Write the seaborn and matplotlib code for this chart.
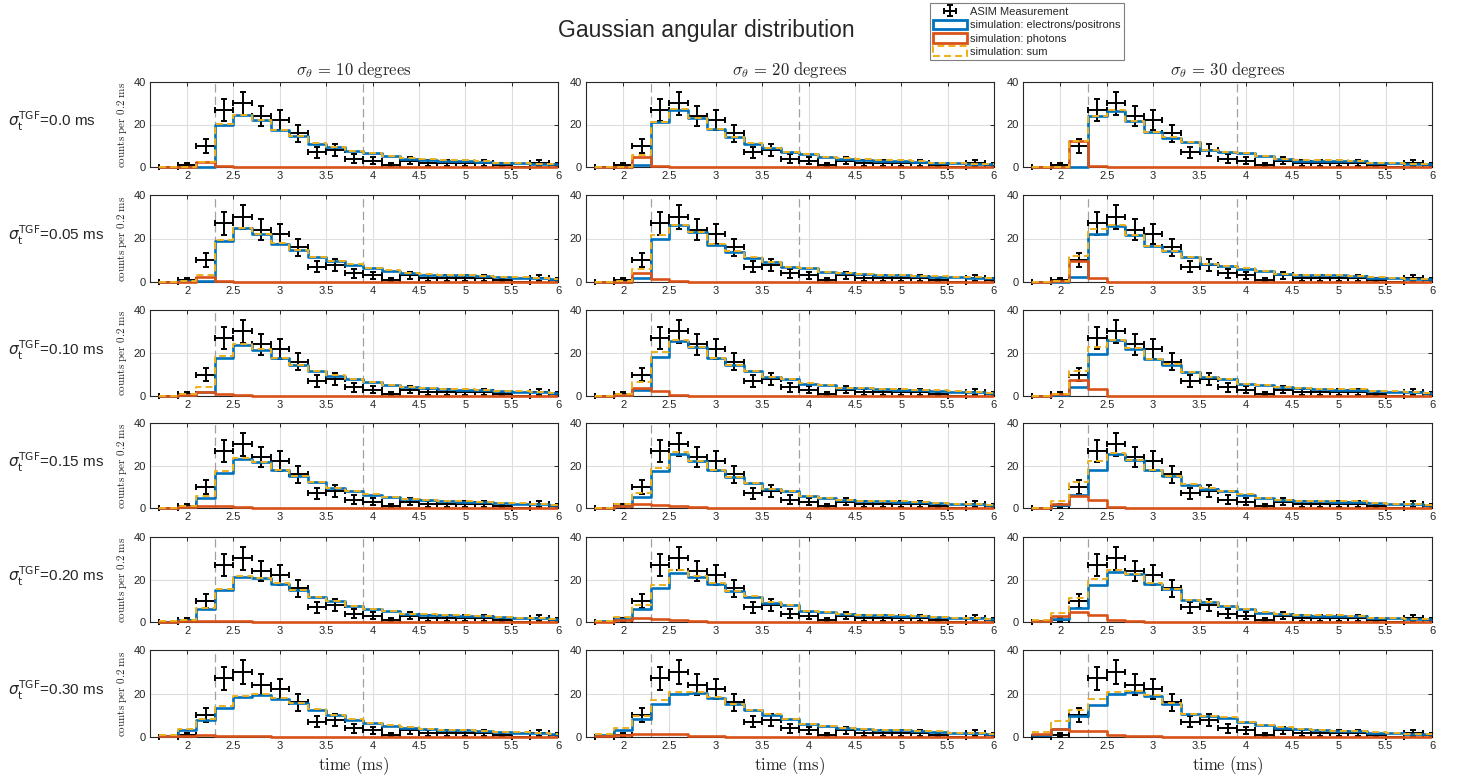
import numpy as np
import pandas as pd
import matplotlib
matplotlib.use("Agg")
import matplotlib.pyplot as plt
from matplotlib.patches import Patch, Rectangle
from matplotlib.ticker import FormatStrFormatter
import seaborn as sns

# ---------------- data ----------------
time_bins = [1.8, 2.0, 2.2, 2.4, 2.6, 2.8, 3.0, 3.2, 3.4, 3.6, 3.8,
             4.0, 4.2, 4.4, 4.6, 4.8, 5.0, 5.2, 5.4, 5.6, 5.8, 6.0]
bin_width = 0.2

asim_counts = [0, 1, 10, 27, 30, 24, 22, 16, 7, 8, 4, 3, 1, 3, 2, 2, 2, 2, 1, 0, 2, 1]
asim_err = [0, 1, 3.2, 5.2, 5.5, 4.9, 4.7, 4, 2.6, 2.8, 2, 1.7, 1, 1.7, 1.4, 1.4, 1.4, 1.4, 1, 0, 1.4, 1]

sigma_t_labels = ["0.0", "0.05", "0.10", "0.15", "0.20", "0.30"]
sigma_theta_labels = ["10", "20", "30"]

electrons_theta10 = [
    [0, 0, 0, 20, 24.5, 22, 17.5, 14.5, 11, 9.5, 7.5, 6.5, 5, 4, 3.5, 3, 3, 2.5, 2, 1.8, 1.5, 1.2],
    [0, 0.3, 0.5, 18.8, 24.6, 22, 17.7, 14.5, 11.5, 9.5, 8, 6.5, 5.2, 4, 3.4, 3, 3, 2.8, 2.2, 2, 1.8, 1.5],
    [0, 0.4, 2, 17.5, 23.7, 21.5, 17.5, 14.5, 11.7, 9.5, 8, 6.5, 5.2, 4.2, 3.8, 3.3, 3, 2.6, 2.2, 2, 1.7, 1.5],
    [0, 0.3, 4.7, 16.5, 23, 21.6, 18, 15, 12.1, 9.4, 7.9, 6.3, 5.2, 4.1, 3.8, 3.3, 3, 2.7, 2.4, 2.1, 1.8, 1.5],
    [0.2, 0.8, 6, 15, 21.1, 20.5, 18.1, 15, 11.8, 9.8, 7.6, 6, 5, 3.9, 3.5, 3.2, 3, 2.7, 2.4, 2, 1.7, 1.5],
    [0.5, 3.4, 7.7, 13.5, 18.5, 19.4, 17.7, 15.7, 12.6, 10, 8, 6.5, 5.2, 4.3, 3.8, 3.3, 3, 2.6, 2.2, 2, 1.8, 1.5],
]
photons_theta10 = [
    [0, 0, 2.3, 0.3, 0.2, 0.2, 0.1, 0.1, 0.1, 0.1, 0.1, 0.1, 0.1, 0.1, 0.1, 0.1, 0.1, 0.1, 0.1, 0.1, 0.1, 0.1],
    [0, 0.2, 2.5, 0.5, 0.2, 0.2, 0.1, 0.1, 0.1, 0.1, 0.1, 0.1, 0.1, 0.1, 0.1, 0.1, 0.1, 0.1, 0.1, 0.1, 0.1, 0.1],
    [0, 0.3, 2, 0.9, 0.3, 0.2, 0.1, 0.1, 0.1, 0.1, 0.1, 0.1, 0.1, 0.1, 0.1, 0.1, 0.1, 0.1, 0.1, 0.1, 0.1, 0.1],
    [0, 0.5, 1.1, 0.8, 0.4, 0.2, 0.1, 0.1, 0.1, 0.1, 0.1, 0.1, 0.1, 0.1, 0.1, 0.1, 0.1, 0.1, 0.1, 0.1, 0.1, 0.1],
    [0.1, 0.3, 0.6, 0.5, 0.4, 0.2, 0.1, 0.1, 0.1, 0.1, 0.1, 0.1, 0.1, 0.1, 0.1, 0.1, 0.1, 0.1, 0.1, 0.1, 0.1, 0.1],
    [0.3, 0.5, 0.8, 0.6, 0.5, 0.3, 0.2, 0.1, 0.1, 0.1, 0.1, 0.1, 0.1, 0.1, 0.1, 0.1, 0.1, 0.1, 0.1, 0.1, 0.1, 0.1],
]
electrons_theta20 = [
    [0, 0, 0.8, 21, 27, 23, 18, 14, 11, 9, 7, 6, 4.5, 4, 3.5, 3, 3, 2.5, 2, 2, 1.5, 1.5],
    [0, 0.2, 2, 20, 26, 23, 17.2, 14, 11.2, 9, 7, 6.5, 4.6, 4.2, 3.5, 3.2, 3, 2.8, 2.5, 2.2, 2, 1.8],
    [0, 0.5, 3, 18, 25.7, 22.6, 17.5, 14.5, 11.4, 8.8, 7.7, 5.8, 4.9, 3.8, 3.5, 3.2, 3, 2.8, 2.5, 2, 1.8, 1.5],
    [0, 0.8, 5.2, 17.6, 25.5, 22, 17.8, 14.5, 11.8, 9, 7.9, 5.5, 4.7, 3.9, 3.4, 3.1, 3, 2.8, 2.3, 2, 1.7, 1.5],
    [0.3, 1.4, 6.3, 16, 23.2, 21.2, 18.1, 14.7, 12, 9.1, 8, 5.3, 4.7, 3.9, 3.4, 3.2, 3, 2.8, 2.4, 2, 1.7, 1.5],
    [0.9, 3.1, 8.3, 15.3, 19.7, 20.3, 18.1, 15, 12.2, 10.3, 8.3, 5.9, 5, 4, 3.6, 3.3, 3, 2.8, 2.5, 1.8, 1.7, 1.5],
]
photons_theta20 = [
    [0, 0, 4.7, 0.3, 0.1, 0.1, 0.1, 0.1, 0.1, 0.1, 0.1, 0.1, 0.1, 0.1, 0.1, 0.1, 0.1, 0.1, 0.1, 0.1, 0.1, 0.1],
    [0, 0.2, 4, 1.5, 0.3, 0.2, 0.1, 0.1, 0.1, 0.1, 0.1, 0.1, 0.1, 0.1, 0.1, 0.1, 0.1, 0.1, 0.1, 0.1, 0.1, 0.1],
    [0, 0.5, 3.5, 2.3, 0.4, 0.2, 0.1, 0.1, 0.1, 0.1, 0.1, 0.1, 0.1, 0.1, 0.1, 0.1, 0.1, 0.1, 0.1, 0.1, 0.1, 0.1],
    [0, 0.9, 1.9, 1.4, 1, 0.3, 0.2, 0.1, 0.1, 0.1, 0.1, 0.1, 0.1, 0.1, 0.1, 0.1, 0.1, 0.1, 0.1, 0.1, 0.1, 0.1],
    [0.1, 1, 1.8, 1.6, 1.1, 0.6, 0.2, 0.1, 0.1, 0.1, 0.1, 0.1, 0.1, 0.1, 0.1, 0.1, 0.1, 0.1, 0.1, 0.1, 0.1, 0.1],
    [0.5, 0.9, 1.2, 1.5, 1.2, 0.5, 0.3, 0.2, 0.1, 0.1, 0.1, 0.1, 0.1, 0.1, 0.1, 0.1, 0.1, 0.1, 0.1, 0.1, 0.1, 0.1],
]
electrons_theta30 = [
    [0, 0, 0, 23.9, 26.5, 21.7, 16.4, 13.8, 11.8, 8, 7, 6.4, 5, 3.7, 3, 3, 3, 2.8, 2, 1.8, 1.5, 1.3],
    [0, 0.2, 2.2, 22.2, 25.8, 21.5, 16.5, 14.2, 11.4, 8.2, 7.2, 6.2, 4.9, 3.7, 3.2, 3, 3, 2.8, 2, 1.8, 1.5, 1.3],
    [0, 0.3, 4.2, 19.5, 26, 22, 17, 14.6, 11, 8.8, 7.7, 5.7, 4.9, 4.2, 3.5, 3.3, 3, 3, 2.2, 2, 1.7, 1.5],
    [0, 1.3, 6.3, 18.1, 25.3, 22.4, 17.8, 15, 11, 9.1, 7.9, 6.3, 4.7, 3.9, 3.3, 3.2, 3, 3, 2.2, 2, 1.8, 1.5],
    [0.3, 1.6, 6.6, 17.3, 23.6, 22.4, 18.1, 15.4, 10.2, 9.4, 7.6, 6, 4.4, 3.6, 3.2, 3, 3, 2.8, 2, 1.8, 1.5, 1.3],
    [1, 3.8, 9.5, 14.6, 20, 20.5, 18.8, 15.4, 10.5, 9.7, 8.9, 6.9, 5.4, 4.3, 3.5, 3, 2.8, 2.6, 2, 1.8, 1.3, 1.2],
]
photons_theta30 = [
    [0, 0, 12.4, 0.3, 0.2, 0.1, 0.1, 0.1, 0.1, 0.1, 0.1, 0.1, 0.1, 0.1, 0.1, 0.1, 0.1, 0.1, 0.1, 0.1, 0.1, 0.1],
    [0, 0.3, 9.8, 2, 0.2, 0.1, 0.1, 0.1, 0.1, 0.1, 0.1, 0.1, 0.1, 0.1, 0.1, 0.1, 0.1, 0.1, 0.1, 0.1, 0.1, 0.1],
    [0, 0.8, 7.3, 3.4, 0.2, 0.1, 0.1, 0.1, 0.1, 0.1, 0.1, 0.1, 0.1, 0.1, 0.1, 0.1, 0.1, 0.1, 0.1, 0.1, 0.1, 0.1],
    [0, 1.8, 5.8, 3.9, 0.6, 0.2, 0.1, 0.1, 0.1, 0.1, 0.1, 0.1, 0.1, 0.1, 0.1, 0.1, 0.1, 0.1, 0.1, 0.1, 0.1, 0.1],
    [0.5, 2.6, 4.9, 3.1, 1.1, 0.3, 0.2, 0.1, 0.1, 0.1, 0.1, 0.1, 0.1, 0.1, 0.1, 0.1, 0.1, 0.1, 0.1, 0.1, 0.1, 0.1],
    [1.3, 3.6, 2.9, 2.8, 0.8, 0.5, 0.3, 0.2, 0.1, 0.1, 0.1, 0.1, 0.1, 0.1, 0.1, 0.1, 0.1, 0.1, 0.1, 0.1, 0.1, 0.1],
]
window_markers = [2.3, 3.9]

electrons_all = [electrons_theta10, electrons_theta20, electrons_theta30]
photons_all = [photons_theta10, photons_theta20, photons_theta30]

# ---------------- style ----------------
sns.set_style("white")
plt.rcParams["font.family"] = ["Liberation Sans", "DejaVu Sans"]
plt.rcParams["mathtext.fontset"] = "cm"
plt.rcParams["lines.scale_dashes"] = False

C_BLUE = "#0072BD"
C_RED = "#D95319"
C_YEL = "#EDB120"

W, H = 1460, 780
fig = plt.figure(figsize=(W / 100, H / 100), dpi=100)

col_lr = [(150, 558), (586, 994), (1023, 1432)]
row_tb = [(82, 167), (195, 282), (310, 396), (423, 508), (537, 622), (650, 737)]

centers = np.array(time_bins)
edges = [round(v, 3) for v in np.append(centers - bin_width / 2, centers[-1] + bin_width / 2)]


def clip_to(artist, ax):
    # clip at the axes box, but let marks sitting on y=0 show their full width
    rect = Rectangle((-0.02, -0.12), 1.02, 1.24, transform=ax.transAxes)
    artist.set_clip_path(rect)
    artist.set_clip_on(True)


err_handle = None
for r, (top, bot) in enumerate(row_tb):
    for c, (left, right) in enumerate(col_lr):
        ax = fig.add_axes([left / W, 1 - bot / H, (right - left) / W, (bot - top) / H])
        ax.set_axisbelow(True)
        ax.grid(True, color="#dedede", linewidth=0.8)
        for xm in window_markers:
            ax.axvline(xm, color="#a0a0a0", linewidth=0.9, dashes=(6, 3), zorder=1.5)

        df = pd.DataFrame({
            "t": time_bins,
            "electrons": electrons_all[c][r],
            "photons": photons_all[c][r],
        })
        df["sum"] = df["electrons"] + df["photons"]

        eb = ax.errorbar(time_bins, asim_counts, yerr=asim_err, xerr=bin_width / 2,
                         fmt="none", ecolor="black", elinewidth=1.4, capsize=2.4,
                         capthick=1.4, zorder=3)
        for art in list(eb.lines[1]) + list(eb.lines[2]):
            clip_to(art, ax)
        if err_handle is None:
            err_handle = eb

        n_before = len(ax.lines)
        sns.histplot(data=df, x="t", weights="electrons", bins=edges, element="step",
                     fill=False, color=C_BLUE, linewidth=1.9, ax=ax, zorder=4)
        sns.histplot(data=df, x="t", weights="photons", bins=edges, element="step",
                     fill=False, color=C_RED, linewidth=1.9, ax=ax, zorder=5)
        sns.histplot(data=df, x="t", weights="sum", bins=edges, element="step",
                     fill=False, color=C_YEL, linewidth=1.4, dashes=(5, 3), ax=ax, zorder=6)
        for ln in ax.lines[n_before:]:
            clip_to(ln, ax)

        ax.set_xlim(1.6, 6.0)
        ax.set_ylim(0, 40)
        ax.set_xticks([2, 2.5, 3, 3.5, 4, 4.5, 5, 5.5, 6])
        ax.set_yticks([0, 20, 40])
        ax.xaxis.set_major_formatter(FormatStrFormatter("%g"))
        ax.tick_params(direction="in", length=3, width=0.7, top=True, right=True,
                       labelsize=8, labelcolor="#262626", pad=3)
        for sp in ax.spines.values():
            sp.set_visible(True)
            sp.set_color("#262626")
            sp.set_linewidth(0.8)

        ax.set_ylabel("")
        ax.set_xlabel("")
        if c == 0:
            ax.set_ylabel(r"$\mathrm{counts\ per\ 0.2\ ms}$", fontsize=8, labelpad=3)
        if r == len(row_tb) - 1:
            ax.set_xlabel(r"$\mathrm{time\ (ms)}$", fontsize=12, labelpad=2)
        if r == 0:
            ax.set_title(r"$\sigma_\theta\,=\,$" + r"$\mathrm{" + sigma_theta_labels[c] + r"\ degrees}$",
                         fontsize=12, pad=5)

    fig.text(8 / W, 1 - ((top + bot) / 2 - 3) / H,
             r"$\sigma_{\mathrm{t}}^{\mathrm{TGF}}$=" + sigma_t_labels[r] + " ms",
             fontsize=11, ha="left", va="center", math_fontfamily="dejavusans")

fig.text(706 / W, 1 - 31 / H, "Gaussian angular distribution", fontsize=16.5,
         ha="center", va="center")

handles = [
    err_handle,
    Patch(facecolor="white", edgecolor=C_BLUE, linewidth=2),
    Patch(facecolor="white", edgecolor=C_RED, linewidth=2),
    Patch(facecolor="white", edgecolor=C_YEL, linewidth=1.5, linestyle=(0, (5, 3))),
]
labels = ["ASIM Measurement", "simulation: electrons/positrons",
          "simulation: photons", "simulation: sum"]
leg = fig.legend(handles, labels, loc="upper left", bbox_to_anchor=(930 / W, 1 - 3 / H),
                 fontsize=8, frameon=True, fancybox=False, edgecolor="#7f7f7f",
                 framealpha=1, borderpad=0.3, labelspacing=0.22, handlelength=3.0,
                 handleheight=1.0, handletextpad=0.3, borderaxespad=0)
leg.get_frame().set_linewidth(0.8)

fig.savefig("out.png", dpi=100)
